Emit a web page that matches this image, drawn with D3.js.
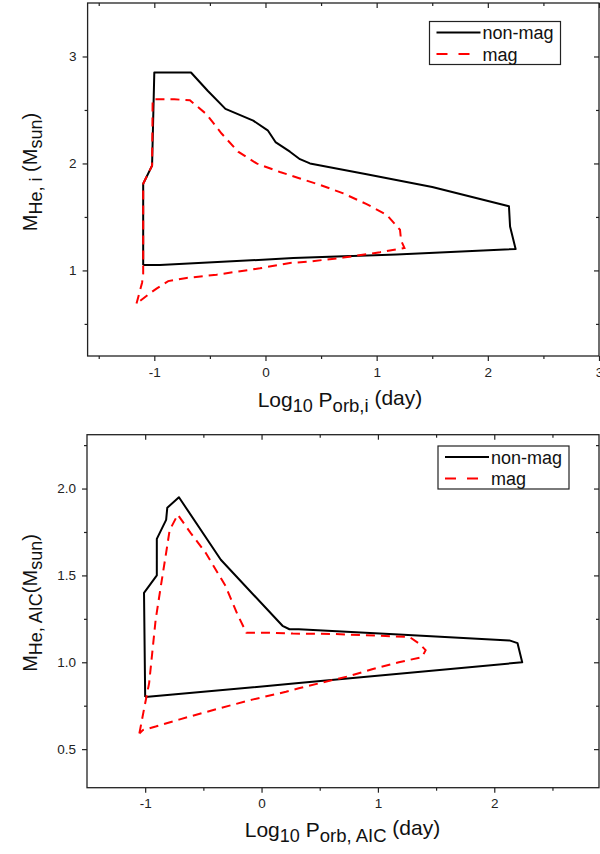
<!DOCTYPE html>
<html>
<head>
<meta charset="utf-8">
<script src="https://cdn.jsdelivr.net/npm/d3@7"></script>
<style>
  body { margin: 0; background: #fff; }
  text { font-family: "Liberation Sans", Arial, sans-serif; }
</style>
</head>
<body>
<svg id="chart" width="600" height="854"></svg>
<script>
// top panel: initial He star mass vs initial orbital period
const topNonMagX = [-1.10, -1.10, -1.02, -1.00, -0.67, -0.52, -0.36, -0.11, 0.02, 0.09, 0.22, 0.31, 0.40, 0.91, 1.50, 2.19, 2.20, 2.25, 1.18, 0.25, -0.95, -1.10];
const topNonMagY = [1.05, 1.81, 1.98, 2.85, 2.85, 2.68, 2.51, 2.40, 2.31, 2.20, 2.11, 2.04, 2.00, 1.90, 1.78, 1.60, 1.41, 1.20, 1.15, 1.115, 1.05, 1.05];
const topMagX = [-1.16, -1.11, -1.10, -1.10, -1.02, -1.015, -0.82, -0.68, -0.53, -0.395, -0.246, -0.08, 0.13, 0.31, 0.49, 0.70, 0.91, 1.09, 1.21, 1.22, 1.25, 1.03, 0.70, 0.37, 0.22, -0.05, -0.44, -0.71, -0.875, -0.98, -1.04, -1.16];
const topMagY = [0.69, 0.885, 0.97, 1.81, 1.98, 2.60, 2.60, 2.59, 2.46, 2.28, 2.11, 2.00, 1.92, 1.86, 1.80, 1.72, 1.62, 1.52, 1.38, 1.28, 1.21, 1.17, 1.12, 1.08, 1.07, 1.02, 0.96, 0.93, 0.90, 0.83, 0.786, 0.69];

// bottom panel: He star mass and orbital period at AIC
const botNonMagX = [-1.00, -1.01, -0.90, -0.90, -0.82, -0.81, -0.71, -0.35, 0.18, 0.24, 0.32, 1.18, 2.13, 2.20, 2.24, 0.32, -1.00];
const botNonMagY = [0.80, 1.40, 1.50, 1.71, 1.82, 1.89, 1.95, 1.59, 1.21, 1.19, 1.19, 1.16, 1.126, 1.11, 1.00, 0.88, 0.80];
const botMagX = [-1.05, -1.01, -0.966, -0.94, -0.91, -0.865, -0.82, -0.79, -0.72, -0.61, -0.48, -0.31, -0.21, -0.13, 0.04, 0.27, 0.61, 1.27, 1.356, 1.41, 1.38, 1.18, 0.95, 0.75, 0.50, 0.32, 0.21, -0.08, -0.39, -0.71, -0.91, -1.02, -1.05];
const botMagY = [0.59, 0.73, 0.88, 1.05, 1.245, 1.44, 1.63, 1.76, 1.85, 1.745, 1.63, 1.44, 1.28, 1.17, 1.17, 1.165, 1.163, 1.146, 1.107, 1.07, 1.03, 1.00, 0.96, 0.92, 0.88, 0.85, 0.83, 0.785, 0.73, 0.67, 0.63, 0.61, 0.59];

const legendLabels = ["non-mag", "mag"];

const topXTicks = [-1, 0, 1, 2, 3], topXMinor = [-1.5, -0.5, 0.5, 1.5, 2.5];
const topYTicks = [1, 2, 3], topYMinor = [0.5, 1.5, 2.5];
const botXTicks = [-1, 0, 1, 2], botXMinor = [-0.5, 0.5, 1.5, 2.5];
const botYTicks = [0.5, 1.0, 1.5, 2.0], botYMinor = [0.75, 1.25, 1.75, 2.25];

const svg = d3.select("#chart");
const zip = (xs, ys) => xs.map((x, i) => [x, ys[i]]);
// plain hyphen minus, as in the original figure
const fmt = f => d => d3.format(f)(d).replace("\u2212", "-");

function panel(o) {
  const x = d3.scaleLinear().domain(o.xDomain).range([o.left, o.right]);
  const y = d3.scaleLinear().domain(o.yDomain).range([o.bottom, o.top]);
  const g = svg.append("g");

  const axisStyle = a => a
    .call(s => s.select(".domain").remove())
    .call(s => s.selectAll(".tick line").attr("stroke", "#222").attr("stroke-width", 1.2))
    .call(s => s.selectAll(".tick text").attr("fill", "#222").attr("font-size", 13.5)
      .attr("font-family", "Liberation Sans, Arial, sans-serif"));

  // major / minor ticks: outward on bottom + left, inward on top + right
  g.append("g").attr("transform", `translate(0,${o.bottom})`)
    .call(d3.axisBottom(x).tickValues(o.xTicks).tickFormat(fmt(o.xFmt)).tickSize(5).tickPadding(6))
    .call(axisStyle);
  g.append("g").attr("transform", `translate(0,${o.bottom})`)
    .call(d3.axisBottom(x).tickValues(o.xMinor).tickFormat("").tickSize(3)).call(axisStyle);
  g.append("g").attr("transform", `translate(${o.left},0)`)
    .call(d3.axisLeft(y).tickValues(o.yTicks).tickFormat(fmt(o.yFmt)).tickSize(5).tickPadding(6))
    .call(axisStyle);
  g.append("g").attr("transform", `translate(${o.left},0)`)
    .call(d3.axisLeft(y).tickValues(o.yMinor).tickFormat("").tickSize(3)).call(axisStyle);
  g.append("g").attr("transform", `translate(0,${o.top})`)
    .call(d3.axisTop(x).tickValues(o.xTicks).tickFormat("").tickSize(-5)).call(axisStyle);
  g.append("g").attr("transform", `translate(0,${o.top})`)
    .call(d3.axisTop(x).tickValues(o.xMinor).tickFormat("").tickSize(-3)).call(axisStyle);
  g.append("g").attr("transform", `translate(${o.right},0)`)
    .call(d3.axisRight(y).tickValues(o.yTicks).tickFormat("").tickSize(-5)).call(axisStyle);
  g.append("g").attr("transform", `translate(${o.right},0)`)
    .call(d3.axisRight(y).tickValues(o.yMinor).tickFormat("").tickSize(-3)).call(axisStyle);

  g.append("rect")
    .attr("x", o.left).attr("y", o.top)
    .attr("width", o.right - o.left).attr("height", o.bottom - o.top)
    .attr("fill", "none").attr("stroke", "#222").attr("stroke-width", 1.3);

  const line = d3.line().x(d => x(d[0])).y(d => y(d[1]));

  g.append("path")
    .datum(zip(o.nonMagX, o.nonMagY))
    .attr("fill", "none").attr("stroke", "#000").attr("stroke-width", 2)
    .attr("stroke-linejoin", "round")
    .attr("d", line);

  g.append("path")
    .datum(zip(o.magX, o.magY))
    .attr("fill", "none").attr("stroke", "#f00").attr("stroke-width", 2)
    .attr("stroke-dasharray", "9,6")
    .attr("d", line);

  // legend
  const lg = g.append("g").attr("transform", `translate(${o.legend[0]},${o.legend[1]})`);
  lg.append("rect").attr("width", 131).attr("height", 43)
    .attr("fill", "#fff").attr("stroke", "#222").attr("stroke-width", 1.2);
  legendLabels.forEach((lab, i) => {
    const yy = 11 + i * 21.5;
    lg.append("line").attr("x1", 7).attr("x2", 51).attr("y1", yy).attr("y2", yy)
      .attr("stroke", i ? "#f00" : "#000").attr("stroke-width", 2)
      .attr("stroke-dasharray", i ? "11,11" : null);
    lg.append("text").attr("x", 53).attr("y", yy + 6.5)
      .attr("font-size", 18).attr("fill", "#111").text(lab);
  });

  // x axis title
  const xt = g.append("text").attr("x", o.xTitle[0]).attr("y", o.xTitle[1])
    .attr("text-anchor", "middle").attr("font-size", 21).attr("fill", "#111");
  xt.append("tspan").text("Log");
  xt.append("tspan").attr("dy", 5).attr("font-size", 18).text("10");
  xt.append("tspan").attr("dy", -5).text(" P");
  xt.append("tspan").attr("dy", 5).attr("font-size", 18.5).text(o.xSub);
  xt.append("tspan").attr("dy", -7).text(" (day)");

  // y axis title
  const yt = g.append("text")
    .attr("transform", `translate(${o.yTitle[0]},${o.yTitle[1]}) rotate(-90)`)
    .attr("text-anchor", "middle").attr("font-size", 20).attr("fill", "#111");
  yt.append("tspan").text("M");
  yt.append("tspan").attr("dy", 5).attr("font-size", 18).text(o.ySub);
  yt.append("tspan").attr("dy", -5).text(o.yMid);
  yt.append("tspan").attr("dy", 5).attr("font-size", 18).text("sun");
  yt.append("tspan").attr("dy", -5).text(")");
}

panel({
  left: 87.6, right: 599, top: 3, bottom: 356,
  xDomain: [-1.6, 3], yDomain: [0.2, 3.5],
  xTicks: topXTicks, xMinor: topXMinor, yTicks: topYTicks, yMinor: topYMinor,
  xFmt: "d", yFmt: "d",
  nonMagX: topNonMagX, nonMagY: topNonMagY, magX: topMagX, magY: topMagY,
  legend: [429.5, 21.5],
  xTitle: [340, 407], xSub: "orb,i",
  yTitle: [37, 172], ySub: "He, i", yMid: " (M"
});

panel({
  left: 87, right: 599, top: 434.7, bottom: 787.7,
  xDomain: [-1.5, 2.9], yDomain: [0.278, 2.31],
  xTicks: botXTicks, xMinor: botXMinor, yTicks: botYTicks, yMinor: botYMinor,
  xFmt: "d", yFmt: ".1f",
  nonMagX: botNonMagX, nonMagY: botNonMagY, magX: botMagX, magY: botMagY,
  legend: [438, 446],
  xTitle: [342.5, 837], xSub: "orb, AIC",
  yTitle: [37, 603], ySub: "He, AIC", yMid: "(M"
});
</script>
</body>
</html>
